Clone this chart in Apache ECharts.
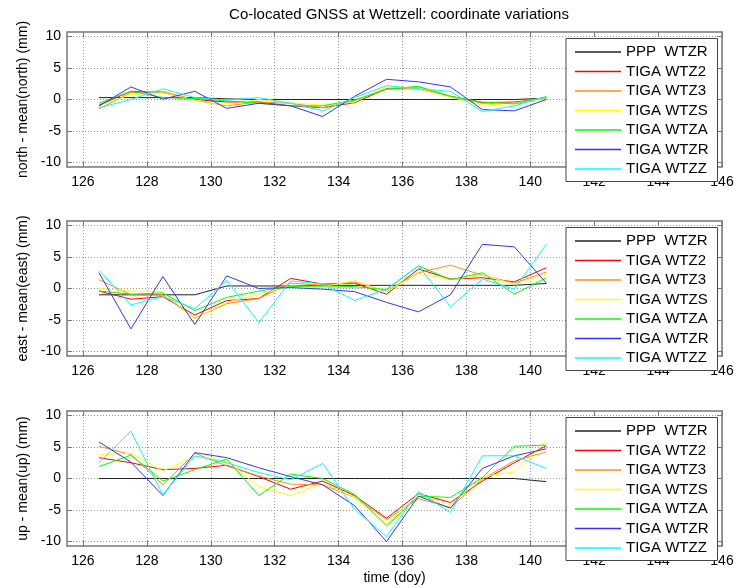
<!DOCTYPE html>
<html>
<head>
<meta charset="utf-8">
<script src="https://cdn.jsdelivr.net/npm/echarts@6/dist/echarts.min.js"></script>
<style>
html,body{margin:0;padding:0;background:#fff;}
#chart{width:740px;height:588px;}
</style>
</head>
<body>
<div id="chart"></div>
<script>
// ---- data ----
const days = [126.5,127.5,128.5,129.5,130.5,131.5,132.5,133.5,134.5,135.5,136.5,137.5,138.5,139.5,140.5];
const seriesNames = ['PPP  WTZR','TIGA WTZ2','TIGA WTZ3','TIGA WTZS','TIGA WTZA','TIGA WTZR','TIGA WTZZ'];
const xTicks = [126,128,130,132,134,136,138,140,142,144,146];
const yTicks = [-10,-5,0,5,10];
const panelNames = ['north - mean(north) (mm)','east - mean(east) (mm)','up - mean(up) (mm)'];

// north
const northPPP  = [0.3,0.3,0.3,0.3,0.1,0,0,0,0,0,0,0,0,0,0.2];
const northWTZ2 = [-0.9,1.3,1.1,0,-0.4,-0.4,-1.0,-1.3,-0.5,1.7,1.7,0.5,-0.5,-0.4,0.15];
const northWTZ3 = [-1.5,1.1,1.3,-0.1,-1.0,-0.4,-0.6,-1.3,-0.2,1.7,2.0,0.5,-0.6,-0.5,0.3];
const northWTZS = [-1.0,0.8,1.1,-0.1,-0.9,0,-0.5,-0.9,-0.4,2.0,1.7,0.4,-0.9,-0.6,0.15];
const northWTZA = [-0.6,1.3,0.3,0.15,-0.2,-0.6,-1.0,-1.0,-0.1,1.6,2.1,0.5,-0.4,-0.7,0.4];
const northWTZR = [-1.05,2.0,0.05,1.3,-1.4,-0.6,-1.0,-2.7,0.5,3.2,2.8,2.0,-1.6,-1.8,0];
const northWTZZ = [-1.3,0,1.7,0.3,-0.1,0.3,-0.6,-1.8,0.3,2.2,1.7,1.3,-1.9,-1.0,0.5];

// east
const eastPPP  = [-1.0,-1.0,-1.0,-1.0,0.4,0.4,0.4,0.5,0.5,0.5,0.5,0.5,0.5,0.5,0.8];
const eastWTZ2 = [-0.4,-1.7,-1.3,-4.2,-1.9,-1.6,1.6,0.7,0.85,-0.9,3.1,1.5,1.7,1.05,3.3];
const eastWTZ3 = [1.4,-1.0,-1.0,-4.7,-2.4,-1.6,0.85,0.5,1.05,-0.4,2.5,3.7,2.1,0.85,2.6];
const eastWTZS = [0,-0.4,-0.6,-4.8,-2.2,-0.9,0.4,0.3,1.2,-0.5,2.4,1.4,2.1,0.7,2.3];
const eastWTZA = [-0.4,-0.9,-0.7,-3.5,-1.4,-0.4,0.3,0.4,0.3,-0.2,3.6,1.4,2.5,-0.9,1.7];
const eastWTZR = [2.5,-6.4,1.9,-5.7,2.0,0,0.15,-0.1,-0.5,-2.2,-3.7,-1.0,7.0,6.6,0.85];
const eastWTZZ = [2.9,-2.6,-1.3,-3.2,1.3,-5.4,1.2,0.7,-1.9,-0.1,3.6,-2.9,1.5,-0.1,7.0];

// up
const upPPP  = [0,0,0,0,0,0,0,0,0,0,0,0,0,0,-0.5];
const upWTZ2 = [3.3,2.5,1.4,1.6,2.1,0.3,-1.7,-0.4,-2.7,-6.3,-2.4,-3.8,-0.4,2.5,5.2];
const upWTZ3 = [5.1,3.8,-1.0,4.0,2.0,0.4,-0.9,-1.0,-3.0,-6.5,-3.2,-4.6,-0.1,2.8,4.2];
const upWTZS = [3.8,4.0,1.2,3.5,2.8,-1.3,-2.7,-0.7,-3.0,-7.2,-2.5,-4.2,0.3,1.05,5.9];
const upWTZA = [1.9,3.7,-0.4,1.4,3.1,-2.7,0.7,0,-2.5,-7.5,-2.8,-3.0,0.15,5.1,5.3];
const upWTZR = [5.8,2.6,-2.7,4.1,3.3,1.7,0.3,-1.0,-4.3,-10.0,-2.8,-4.7,1.6,3.6,4.7];
const upWTZZ = [2.5,7.5,-2.6,3.6,2.5,0.95,-0.2,2.4,-4.9,-9.2,-2.1,-5.4,3.6,3.6,1.6];

const panels = [
  [northPPP,northWTZ2,northWTZ3,northWTZS,northWTZA,northWTZR,northWTZZ],
  [eastPPP,eastWTZ2,eastWTZ3,eastWTZS,eastWTZA,eastWTZR,eastWTZZ],
  [upPPP,upWTZ2,upWTZ3,upWTZS,upWTZA,upWTZR,upWTZZ]
];

// ---- styling ----
const colors = ['#222222','#ff0000','#ff8c1a','#ffff00','#00ff00','#3333ff','#00ffff'];
const FONT = '"Liberation Sans", Arial, sans-serif';
const gridTops = [32, 221, 411];
const gridH = 135;
const frameColor = '#777';

const grids = [], xAxes = [], yAxes = [], series = [], legends = [];
gridTops.forEach((top, i) => {
  grids.push({left: 67, right: 18, top: top, height: gridH, containLabel: false});
  const baseX = {
    gridIndex: i, type: 'value', min: 125.5, max: 146,
    axisLine: {show: true, onZero: false, lineStyle: {color: frameColor, width: 1.5}},
    axisTick: {show: true, inside: true, length: 5, customValues: xTicks, lineStyle: {color: frameColor}},
  };
  xAxes.push(Object.assign({}, baseX, {
    position: 'bottom',
    axisLabel: {show: true, customValues: xTicks, color: '#000', fontSize: 14, fontFamily: FONT, margin: 8},
    splitLine: {show: true, lineStyle: {type: [1, 2], color: '#999', width: 1}},
    name: i === 2 ? 'time (doy)' : '',
    nameLocation: 'middle', nameGap: 25,
    nameTextStyle: {fontSize: 14, color: '#000', fontFamily: FONT}
  }));
  xAxes.push(Object.assign({}, baseX, {
    position: 'top',
    axisLabel: {show: false},
    splitLine: {show: false}
  }));
  const baseY = {
    gridIndex: i, type: 'value', min: -10.7, max: 10.7,
    axisLine: {show: true, onZero: false, lineStyle: {color: frameColor, width: 1.5}},
    axisTick: {show: true, inside: true, length: 5, customValues: yTicks, lineStyle: {color: frameColor}},
  };
  yAxes.push(Object.assign({}, baseY, {
    position: 'left',
    axisLabel: {show: true, customValues: yTicks, color: '#000', fontSize: 14, fontFamily: FONT, margin: 6},
    splitLine: {show: true, lineStyle: {type: [1, 2], color: '#999', width: 1}},
    name: panelNames[i], nameLocation: 'middle', nameGap: 27,
    nameTextStyle: {fontSize: 14, color: '#000', fontFamily: FONT}
  }));
  yAxes.push(Object.assign({}, baseY, {
    position: 'right',
    axisLabel: {show: false},
    splitLine: {show: false}
  }));
  panels[i].forEach((vals, k) => {
    series.push({
      name: seriesNames[k], type: 'line',
      xAxisIndex: i * 2, yAxisIndex: i * 2,
      data: days.map((d, j) => [d, vals[j]]),
      symbol: 'none', showSymbol: false,
      lineStyle: {color: colors[k], width: 1},
      itemStyle: {color: colors[k]},
      emphasis: {disabled: true},
      silent: true, z: 2 + k
    });
  });
  legends.push({
    orient: 'vertical', left: 566, top: top + 6.5,
    data: seriesNames, icon: 'rect', itemWidth: 46, itemHeight: 1.5, itemGap: 2.5,
    padding: [5, 9, 4, 9],
    backgroundColor: '#fff', borderColor: '#444', borderWidth: 1,
    textStyle: {fontSize: 15, color: '#000', fontFamily: FONT, lineHeight: 17},
    selectedMode: false, z: 10
  });
});

const chart = echarts.init(document.getElementById('chart'), null, {renderer: 'canvas'});
chart.setOption({
  animation: false,
  backgroundColor: '#fff',
  title: {
    text: 'Co-located GNSS at Wettzell: coordinate variations',
    left: 394, top: 2, textAlign: 'center',
    textStyle: {fontSize: 15, fontWeight: 'normal', color: '#000', fontFamily: FONT}
  },
  grid: grids, xAxis: xAxes, yAxis: yAxes, legend: legends, series: series
});
</script>
</body>
</html>
